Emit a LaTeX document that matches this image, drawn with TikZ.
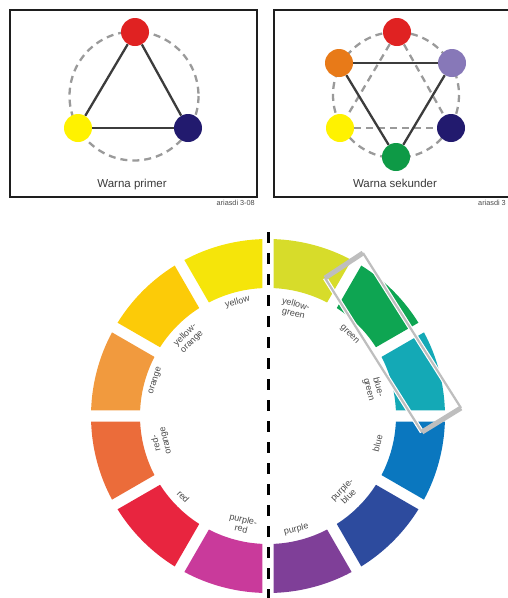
\documentclass[tikz,border=0pt]{standalone}
\usepackage{fontspec}
\setmainfont{Liberation Sans}
\definecolor{frame}{HTML}{1E1E1E}
\definecolor{linkgray}{HTML}{3C3C3C}
\definecolor{ringgray}{HTML}{9A9A9A}
\definecolor{capgray}{HTML}{3A3A3A}
\definecolor{labelgray}{HTML}{4A4A4A}
\definecolor{boxgray}{HTML}{BEBEBE}
% dot colours
\definecolor{dred}{HTML}{E02222}
\definecolor{dyellow}{HTML}{FFF200}
\definecolor{dnavy}{HTML}{221A6E}
\definecolor{dorange}{HTML}{E87A18}
\definecolor{dlavender}{HTML}{8778B8}
\definecolor{dgreen}{HTML}{0E9A46}
% wheel colours
\definecolor{wyellow}{HTML}{F5E50A}
\definecolor{wyelloworange}{HTML}{FCCB08}
\definecolor{worange}{HTML}{F19A3E}
\definecolor{wredorange}{HTML}{EB6C3A}
\definecolor{wred}{HTML}{E8253F}
\definecolor{wpurplered}{HTML}{C93A9B}
\definecolor{wpurple}{HTML}{7F3F98}
\definecolor{wpurpleblue}{HTML}{2D4B9E}
\definecolor{wblue}{HTML}{0A77BF}
\definecolor{wbluegreen}{HTML}{14A9B6}
\definecolor{wgreen}{HTML}{0EA552}
\definecolor{wyellowgreen}{HTML}{D7DC2A}
% one 30-degree block of the colour wheel, starting at angle #1
\newcommand\wheelblock[2]{%
  \fill[#2] (#1+1.8:177) arc[start angle=#1+1.8, end angle=#1+28.2, radius=177]
    -- (#1+27.5:128) arc[start angle=#1+27.5, end angle=#1+2.5, radius=128] -- cycle;}
\tikzset{
  panel/.style={draw=frame, line width=2.4pt},
  dot/.style={circle, minimum size=28pt, inner sep=0pt},
  guide/.style={draw=ringgray, line width=2.3pt, dash pattern=on 7pt off 5pt},
  link/.style={draw=linkgray, line width=2.3pt},
  caption/.style={text=capgray, font=\fontsize{11.5}{13}\selectfont},
  credit/.style={text=labelgray, font=\fontsize{7.3}{8}\selectfont, inner sep=0pt},
  wlabel/.style={text=labelgray, font=\fontsize{9}{9.5}\selectfont, align=center, inner sep=0pt},
}
\begin{document}
\begin{tikzpicture}[x=1pt, y=-1pt]
\useasboundingbox (0,0) rectangle (508,598);
\clip (0,0) rectangle (508,598);

% ---- primary colours panel ----
\draw[panel] (10,10) rectangle (257,197);
\draw[guide] (134,96) circle (64.5);
\node[dot, fill=dred]    (pr) at (135,32) {};
\node[dot, fill=dyellow] (py) at (78,128) {};
\node[dot, fill=dnavy]   (pb) at (188,128) {};
\draw[link] (pr) -- (py);
\draw[link] (pr) -- (pb);
\draw[link] (py) -- (pb);
\node[caption] (pcap) at (132,185) {Warna primer};
\node[credit, anchor=east] (pcred) at (255,203) {ariasdi 3-08};

% ---- secondary colours panel ----
\draw[panel] (274,10) rectangle (520,197);
\draw[guide] (396,95) circle (63);
\node[dot, fill=dred]      (sr) at (397,32) {};
\node[dot, fill=dorange]   (so) at (339,63) {};
\node[dot, fill=dlavender] (sl) at (452,63) {};
\node[dot, fill=dyellow]   (sy) at (340,128) {};
\node[dot, fill=dnavy]     (sb) at (451,128) {};
\node[dot, fill=dgreen]    (sg) at (396,157) {};
\draw[guide] (sr) -- (sy);
\draw[guide] (sr) -- (sb);
\draw[guide] (sy) -- (sb);
\draw[link] (so) -- (sl);
\draw[link] (so) -- (sg);
\draw[link] (sl) -- (sg);
\node[caption] (scap) at (395,183) {Warna sekunder};
\node[credit, anchor=west] (scred) at (478,203) {ariasdi 3};

% ---- twelve-part colour wheel ----
\begin{scope}[shift={(268,416)}, y=1pt]
  \wheelblock{90}{wyellow}
  \wheelblock{120}{wyelloworange}
  \wheelblock{150}{worange}
  \wheelblock{180}{wredorange}
  \wheelblock{210}{wred}
  \wheelblock{240}{wpurplered}
  \wheelblock{270}{wpurple}
  \wheelblock{300}{wpurpleblue}
  \wheelblock{330}{wblue}
  \wheelblock{0}{wbluegreen}
  \wheelblock{30}{wgreen}
  \wheelblock{60}{wyellowgreen}

  \node[wlabel, rotate=15]    (lyellow)   at (105:118)  {yellow};
  \node[wlabel, rotate=45]    (lyo)       at (135.7:111) {yellow-\\orange};
  \node[wlabel, rotate=72.6]  (lorange)   at (162.6:118) {orange};
  \node[wlabel, rotate=103.5] (lro)       at (193.5:110) {red-\\orange};
  \node[wlabel, rotate=-46.4] (lred)      at (223.6:117) {red};
  \node[wlabel, rotate=-13.4] (lpr)       at (256.6:111) {purple-\\red};
  \node[wlabel, rotate=14]    (lpurple)   at (284:117)  {purple};
  \node[wlabel, rotate=45]    (lpb)       at (315:109)  {purple-\\blue};
  \node[wlabel, rotate=76]    (lblue)     at (346:113)  {blue};
  \node[wlabel, rotate=-75.3] (lbg)       at (14.7:109) {blue-\\green};
  \node[wlabel, rotate=-45]   (lgreen)    at (45:115)   {green};
  \node[wlabel, rotate=-14]   (lyg)       at (76:110)   {yellow-\\green};
\end{scope}

% frame around the green pair
\coordinate (g1) at (363,253);
\coordinate (g2) at (461,408);
\coordinate (g3) at (422,432);
\coordinate (g4) at (325,278);
\draw[white, line width=4.5pt] (g1) -- (g2) (g3) -- (g4);
\draw[boxgray, line width=2.2pt] (g1) -- (g2) (g3) -- (g4);
\draw[boxgray, line width=5pt] (g2) -- (g3) (g4) -- (g1);

% dividing line
\coordinate (dtop) at (268,232);
\coordinate (dbot) at (268,600);
\draw[black, line width=3pt, dash pattern=on 11pt off 10pt] (dtop) -- (dbot);
\end{tikzpicture}
\end{document}
